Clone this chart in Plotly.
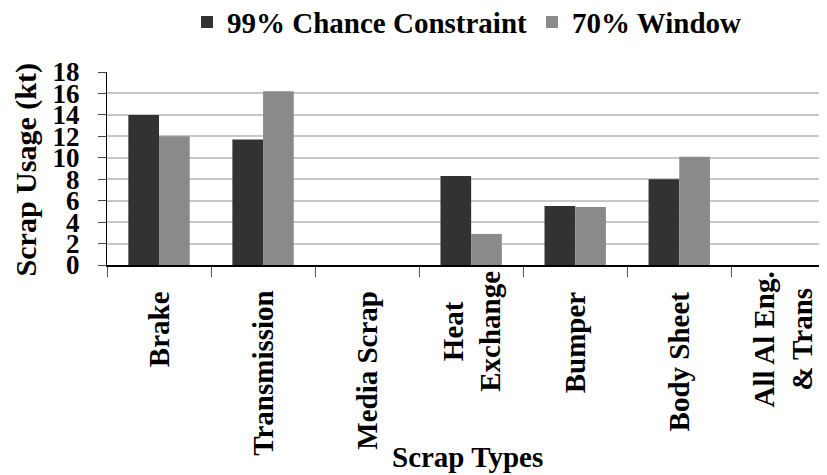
import plotly.graph_objects as go

categories = ["Brake", "Transmission", "Media Scrap", "Heat<br>Exchange", "Bumper",
              "Body Sheet", "All Al Eng.<br>& Trans"]
chance_99 = [14.0, 11.7, 0, 8.3, 5.5, 8.0, 0]
window_70 = [12.0, 16.2, 0, 2.9, 5.4, 10.1, 0]
y_ticks = [0, 2, 4, 6, 8, 10, 12, 14, 16, 18]

FONT = "Liberation Serif, Times New Roman, serif"

fig = go.Figure()
fig.add_trace(go.Bar(name="99% Chance Constraint", x=categories, y=chance_99,
                     marker=dict(color="#323232", line=dict(width=0))))
fig.add_trace(go.Bar(name="70% Window", x=categories, y=window_70,
                     marker=dict(color="#8a8a8a", line=dict(width=0))))

# category tick labels, drawn at each category's position on the x axis
tick_annotations = [
    dict(text=c, x=c, xref="x", yref="paper", y=-0.125, xanchor="center",
         yanchor="top", textangle=-90, showarrow=False, align="center",
         yshift=(20 if "<br>" in c else 0),
         font=dict(family=FONT, size=29, weight="bold", color="black"))
    for c in categories
]

fig.update_layout(
    width=827, height=475,
    margin=dict(l=99, r=8, t=64, b=218, autoexpand=False),
    paper_bgcolor="white", plot_bgcolor="white",
    barmode="group", bargap=0.41, bargroupgap=0,
    font=dict(family=FONT, size=26, color="black"),
    showlegend=True,
    legend=dict(orientation="h", x=0.5, xanchor="center",
                y=1.39, yanchor="top",
                font=dict(family=FONT, size=29, color="black", weight="bold"),
                itemwidth=30, traceorder="normal", bgcolor="rgba(0,0,0,0)"),
    xaxis=dict(range=[-0.5, 6.42], tickson="boundaries", ticks="outside", ticklen=10,
               tickcolor="#555", showline=True, linecolor="black", linewidth=1.5,
               showticklabels=False, showgrid=False, automargin=False),
    yaxis=dict(range=[0, 18], tickvals=y_ticks, ticks="outside", ticklen=8,
               tickcolor="#444", showline=True, linecolor="black", linewidth=1,
               showgrid=True, gridcolor="#c8c8c8", gridwidth=1.5,
               ticklabelstandoff=13, automargin=False,
               tickfont=dict(family=FONT, size=27, weight="bold"), zeroline=False),
    annotations=tick_annotations + [
        dict(text="Scrap Usage (kt)", textangle=-90, xref="paper", yref="paper",
             x=-0.1125, y=0.49, xanchor="center", yanchor="middle", showarrow=False,
             font=dict(family=FONT, size=30, weight="bold")),
        dict(text="Scrap Types", xref="paper", yref="paper",
             x=0.5, y=-0.995, xanchor="center", yanchor="middle", showarrow=False,
             font=dict(family=FONT, size=29, weight="bold")),
    ],
)

fig.write_html("out.html")
